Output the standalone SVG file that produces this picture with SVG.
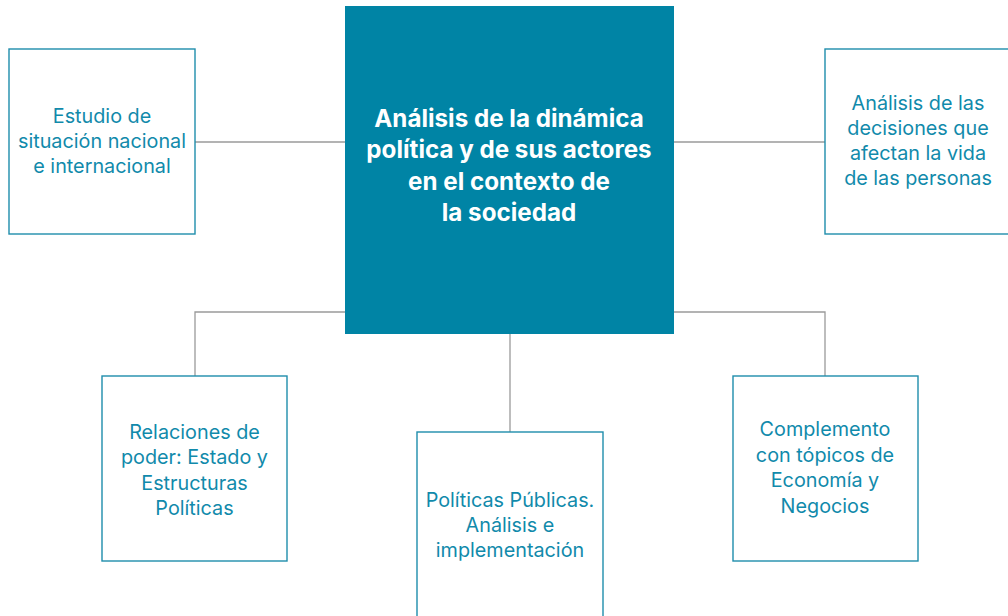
<svg xmlns="http://www.w3.org/2000/svg" width="1008" height="616" viewBox="0 0 1008 616">
<style>
.box{fill:#fff;stroke:#1F8DAC;stroke-width:1.4}
.t{font-family:Inter,"Noto Sans",sans-serif;font-size:19.8px;fill:#118AAB;text-anchor:middle}
.c{font-family:Inter,"Noto Sans",sans-serif;font-size:24.2px;font-weight:bold;fill:#fff;text-anchor:middle}
.ln{fill:none;stroke:#9a9a9a;stroke-width:1.3}
</style>
<rect width="1008" height="616" fill="#fff"/>
<g id="connectors">
<path class="ln" d="M195 142H345"/>
<path class="ln" d="M674 142H825"/>
<path class="ln" d="M345 312H195V376"/>
<path class="ln" d="M674 312H825V376"/>
<path class="ln" d="M510 334V432"/>
</g>
<g id="center">
<rect x="345" y="6" width="329" height="328" fill="#0084A5"/>
<text class="c" x="509" y="127">Análisis de la dinámica</text>
<text class="c" x="509" y="158">política y de sus actores</text>
<text class="c" x="509" y="189.5">en el contexto de</text>
<text class="c" x="509" y="220.5">la sociedad</text>
</g>
<g id="n1">
<rect class="box" x="9" y="49" width="186" height="185"/>
<text class="t" x="102" y="122.5">Estudio de</text>
<text class="t" x="102" y="147.5">situación nacional</text>
<text class="t" x="102" y="172.5">e internacional</text>
</g>
<g id="n2">
<rect class="box" x="825" y="49" width="186" height="185"/>
<text class="t" x="918" y="110">Análisis de las</text>
<text class="t" x="918" y="135">decisiones que</text>
<text class="t" x="918" y="160">afectan la vida</text>
<text class="t" x="918" y="185">de las personas</text>
</g>
<g id="n3">
<rect class="box" x="102" y="376" width="185" height="185"/>
<text class="t" x="194.5" y="439">Relaciones de</text>
<text class="t" x="194.5" y="464">poder: Estado y</text>
<text class="t" x="194.5" y="489.5">Estructuras</text>
<text class="t" x="194.5" y="515">Políticas</text>
</g>
<g id="n4">
<rect class="box" x="417" y="432" width="186" height="200"/>
<text class="t" x="510" y="507">Políticas Públicas.</text>
<text class="t" x="510" y="532">Análisis e</text>
<text class="t" x="510" y="557">implementación</text>
</g>
<g id="n5">
<rect class="box" x="733" y="376" width="185" height="185"/>
<text class="t" x="825" y="436">Complemento</text>
<text class="t" x="825" y="461.5">con tópicos de</text>
<text class="t" x="825" y="487">Economía y</text>
<text class="t" x="825" y="512.5">Negocios</text>
</g>
</svg>
